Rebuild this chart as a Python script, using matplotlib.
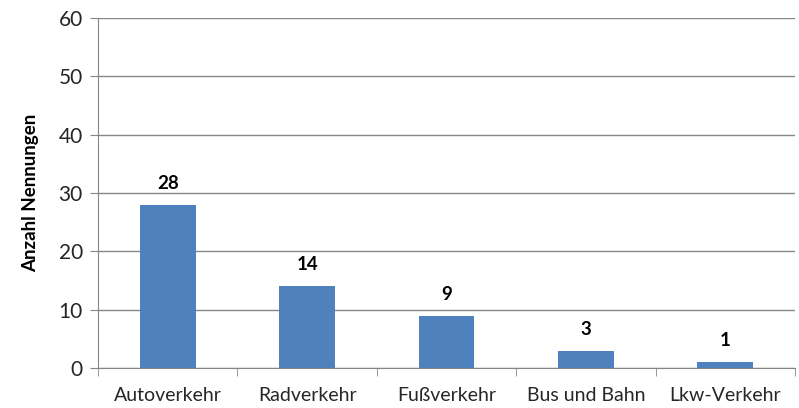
import matplotlib
matplotlib.use('Agg')
import matplotlib.pyplot as plt
import numpy as np

categories = ['Autoverkehr', 'Radverkehr', 'Fußverkehr', 'Bus und Bahn', 'Lkw-Verkehr']
values = [28, 14, 9, 3, 1]
y_ticks = [0, 10, 20, 30, 40, 50, 60]

plt.rcParams['font.family'] = ['Lato', 'DejaVu Sans']

fig = plt.figure(figsize=(7.99, 4.08), dpi=100)
ax = fig.add_axes([0.1227, 0.098, 0.8723, 0.858])

x = np.arange(len(categories))
ax.bar(x, values, width=0.4, color='#4F81BD', zorder=3)
for xi, v in zip(x, values):
    ax.text(xi, v + 2.2, str(v), ha='center', va='bottom',
            fontsize=13.5, fontweight='bold', color='#000000')

ax.set_xlim(-0.5, len(categories) - 0.5)
ax.set_ylim(0, 60)
ax.set_yticks(y_ticks)
ax.tick_params(axis='y', labelsize=15, length=6, color='#868686', pad=5, labelcolor='#262626')
ax.yaxis.grid(True, color='#868686', linewidth=1, zorder=0)

# category labels centred, ticks at boundaries
ax.set_xticks(x)
ax.set_xticklabels(categories, fontsize=14, color='#262626')
ax.tick_params(axis='x', length=0, pad=14)
ax.set_xticks(np.arange(len(categories) + 1) - 0.5, minor=True)
ax.tick_params(axis='x', which='minor', length=6, color='#868686')

for s in ['top', 'right']:
    ax.spines[s].set_visible(False)
for s in ['left', 'bottom']:
    ax.spines[s].set_color('#868686')

ax.set_ylabel('Anzahl Nennungen', fontsize=13.5, fontweight='bold', color='#000000', labelpad=14)

fig.savefig('out.png', dpi=100)
